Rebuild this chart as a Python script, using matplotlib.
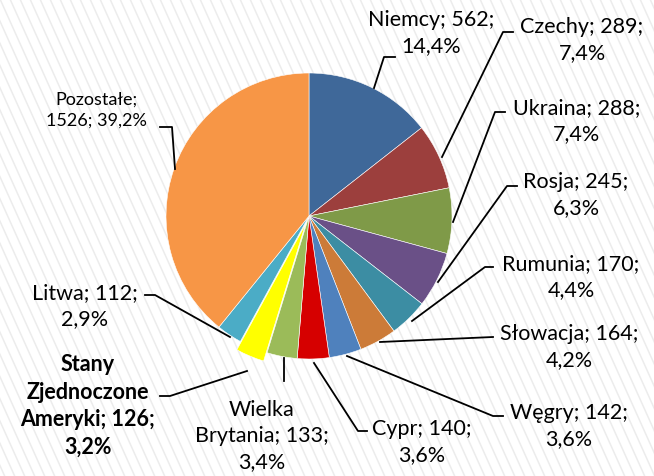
import numpy as np
import matplotlib.pyplot as plt

plt.rcParams["font.family"] = ["Lato", "DejaVu Sans"]

countries = ["Niemcy", "Czechy", "Ukraina", "Rosja", "Rumunia", "Słowacja",
             "Węgry", "Cypr", "Wielka Brytania", "Stany Zjednoczone Ameryki",
             "Litwa", "Pozostałe"]
values = [562, 289, 288, 245, 170, 164, 142, 140, 133, 126, 112, 1526]
colors = ["#3F6899", "#9C3F3D", "#7F9A48", "#6A5087", "#3C8DA3", "#CC7B38",
          "#4F81BD", "#D60000", "#9BBB59", "#FFFF00", "#4BACC6", "#F79646"]

W, H = 654, 477
total = sum(values)
pct = [f"{v / total * 100:.1f}".replace(".", ",") + "%" for v in values]

# label layout in pixel coords (y down): text centre, leader polyline, line-break style
layout = {
    "Niemcy": ((431, 33), [(374, 89), (384, 58), (395, 58)], "{n}; {v};\n{p}"),
    "Czechy": ((582, 40), [(442, 158), (503, 33), (513, 33)], "{n}; {v};\n{p}"),
    "Ukraina": ((577, 121), [(453, 223), (495, 113), (505, 113)], "{n}; {v};\n{p}"),
    "Rosja": ((576, 195), [(438, 283), (507, 187), (517, 187)], "{n}; {v};\n{p}"),
    "Rumunia": ((571, 277), [(412, 322), (485, 268), (493, 268)], "{n}; {v};\n{p}"),
    "Słowacja": ((569, 347), [(380, 343), (493, 338)], "{n}; {v};\n{p}"),
    "Węgry": ((569, 426), [(347, 357), (493, 417), (503, 417)], "{n}; {v};\n{p}"),
    "Cypr": ((422, 442), [(314, 364), (358, 432), (367, 432)], "{n}; {v};\n{p}"),
    "Wielka Brytania": ((262, 436), [(284, 359), (284, 382)], "Wielka\nBrytania; {v};\n{p}"),
    "Stany Zjednoczone Ameryki": ((88, 406), [(247, 372), (170, 397), (160, 397)],
                                  "Stany\nZjednoczone\nAmeryki; {v};\n{p}"),
    "Litwa": ((85, 306), [(230, 338), (155, 296), (145, 296)], "{n}; {v};\n{p}"),
    "Pozostałe": ((96, 110), [(175, 170), (172, 128), (160, 128)], "{n};\n{v}; {p}"),
}

fig = plt.figure(figsize=(W / 100, H / 100), dpi=100)
ax = fig.add_axes([0, 0, 1, 1])

# diagonal stripe background
for x0 in np.arange(-300, W + 20, 10):
    ax.plot([x0, x0 + 0.45 * H], [H, 0], color="#ECECEC", lw=1.1, zorder=0)

# explode offset is in data units (pixels here)
explode = [9 if c.startswith("Stany") else 0 for c in countries]
ax.pie(values, colors=colors, startangle=90, counterclock=False,
       center=(309, H - 217), radius=143, explode=explode,
       wedgeprops=dict(edgecolor="white", linewidth=0.4), frame=True)
ax.set_xlim(0, W)
ax.set_ylim(0, H)
ax.set_aspect("equal")
ax.axis("off")

for name, v, p in zip(countries, values, pct):
    (tx, ty), pts, fmt = layout[name]
    xs = [pt[0] for pt in pts]
    ys = [H - pt[1] for pt in pts]
    ax.plot(xs, ys, color="black", lw=1.3, zorder=3)
    bold = name.startswith("Stany")
    size = 13 if name == "Pozostałe" else 15.5
    ax.text(tx, H - ty, fmt.format(n=name, v=v, p=p), ha="center", va="center",
            fontsize=size, fontweight="bold" if bold else "normal",
            linespacing=1.4, color="black", zorder=4)

fig.savefig("out.png", dpi=100)
